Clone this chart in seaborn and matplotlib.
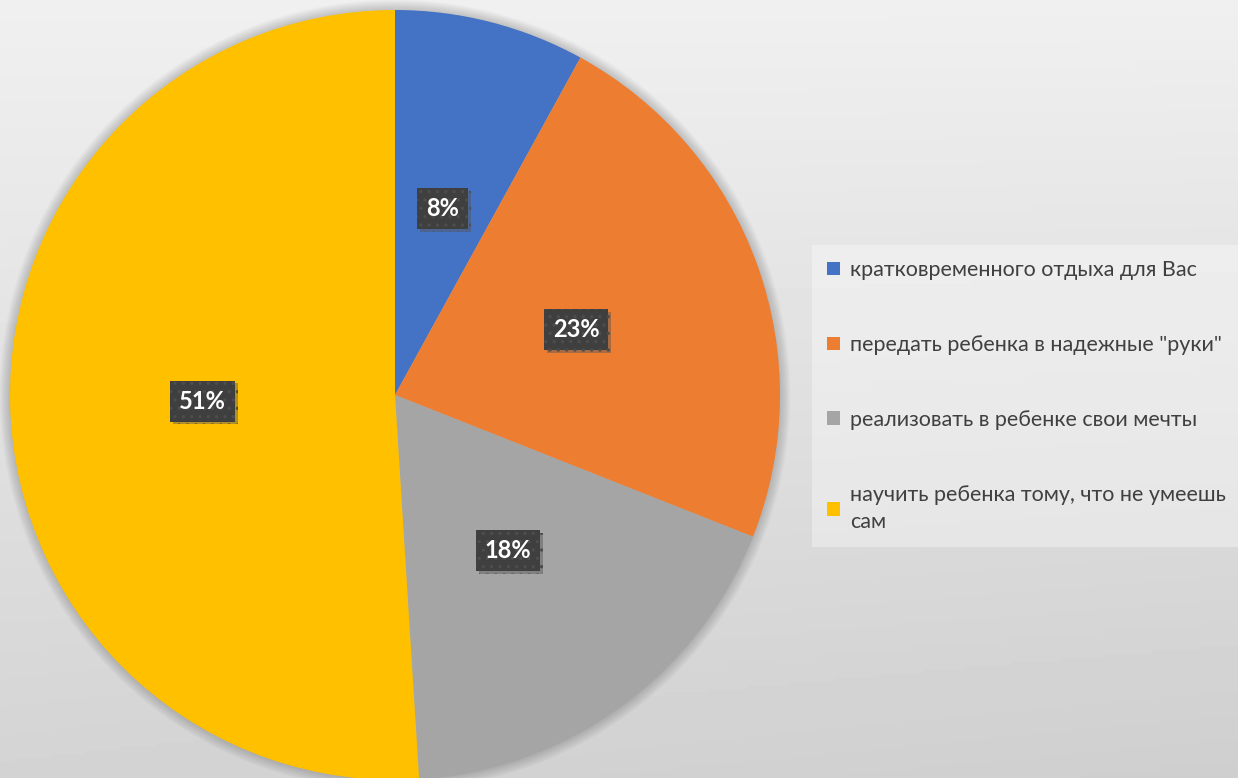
import numpy as np
import matplotlib
matplotlib.use("Agg")
import matplotlib.pyplot as plt
import matplotlib.patheffects as pe
from matplotlib.patches import Circle
import seaborn as sns

categories = [
    "кратковременного отдыха для Вас",
    'передать ребенка в надежные "руки"',
    "реализовать в ребенке свои мечты",
    "научить ребенка тому, что не умеешь\nсам",
]
values = [8, 23, 18, 51]
colors = ["#4472C4", "#ED7D31", "#A5A5A5", "#FFC000"]

sns.set_theme(style="white")
plt.rcParams["font.family"] = ["Lato", "DejaVu Sans"]
plt.rcParams["hatch.linewidth"] = 1.2

W, H = 1238, 778
fig = plt.figure(figsize=(W / 100, H / 100), dpi=100)

# background gradient
bg = fig.add_axes([0, 0, 1, 1], zorder=-10)
yy, xx = np.mgrid[0:1:200j, 0:1:300j]
grad = 0.94 - 0.07 * yy - 0.06 * xx * yy - 0.04 * (1 - xx) * yy
bg.imshow(grad, cmap="gray", vmin=0, vmax=1, aspect="auto", extent=[0, 1, 1, 0])
bg.set_axis_off()

cx, cy, r = 395, 395, 385
ax = fig.add_axes([(cx - r) / W, (H - cy - r) / H, 2 * r / W, 2 * r / H])
ax.set_axis_off()

# soft shadow
for k in range(10):
    ax.add_patch(Circle((0.0, 0.0), 1.0 + 0.003 * k, color="black",
                        alpha=0.018, lw=0, zorder=0, clip_on=False))

wedges, texts, autotexts = ax.pie(
    values, colors=colors, startangle=90, counterclock=False,
    autopct=lambda p: f"{p:.0f}%", pctdistance=0.5,
    wedgeprops=dict(edgecolor="none", linewidth=0, zorder=1),
    textprops=dict(color="white", fontsize=17, fontweight="bold"),
)
ax.set_xlim(-1, 1)
ax.set_ylim(-1, 1)
for t in autotexts:
    t.set_bbox(dict(boxstyle="square,pad=0.38", fc="#3f3f3f", ec="#4d4d4d",
                    lw=0, hatch=".."))
    t.get_bbox_patch().set_path_effects(
        [pe.SimplePatchShadow(offset=(2, -2), alpha=0.45, shadow_rgbFace="#555555"),
         pe.Normal()])
    t.set_zorder(5)

leg = fig.legend(
    wedges, categories, loc="center left",
    bbox_to_anchor=(812 / W, 1 - 396 / H), frameon=True, fancybox=False,
    fontsize=15.5, handlelength=0.6, handleheight=0.6, handletextpad=0.45,
    labelspacing=2.55, borderpad=0.7, borderaxespad=0, labelcolor="#404040",
)
for t in leg.get_texts():
    t.set_linespacing(1.45)
frame = leg.get_frame()
frame.set_facecolor("white")
frame.set_alpha(0.35)
frame.set_edgecolor("none")

fig.savefig("out.png", dpi=100)
